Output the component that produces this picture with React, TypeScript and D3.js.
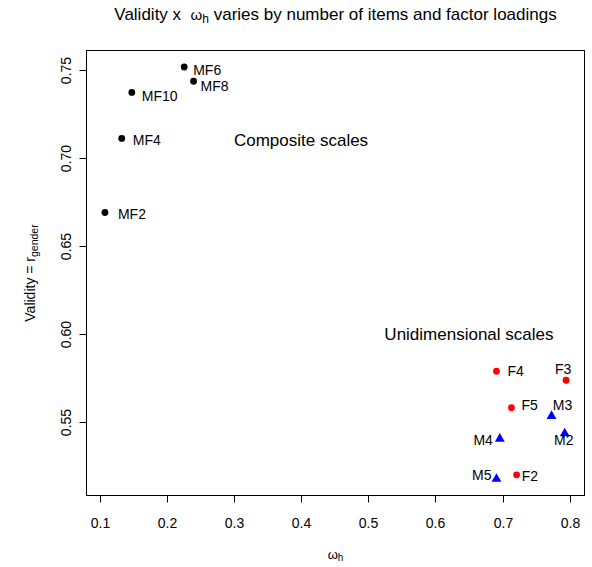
import * as d3 from "d3";

// composite scales (black dots)
const compositeNames = ["MF2", "MF4", "MF6", "MF8", "MF10"];
const compositeOmega = [0.108, 0.133, 0.226, 0.24, 0.148];
const compositeValidity = [0.669, 0.711, 0.7515, 0.7434, 0.7371];

// female items (red dots)
const femaleNames = ["F2", "F3", "F4", "F5"];
const femaleOmega = [0.721, 0.7946, 0.691, 0.7133];
const femaleValidity = [0.5203, 0.5739, 0.579, 0.5583];

// male items (blue triangles)
const maleNames = ["M2", "M3", "M4", "M5"];
const maleOmega = [0.7926, 0.773, 0.696, 0.691];
const maleValidity = [0.5438, 0.5536, 0.5407, 0.5179];

const xTicks = [0.1, 0.2, 0.3, 0.4, 0.5, 0.6, 0.7, 0.8];
const yTicks = [0.55, 0.6, 0.65, 0.7, 0.75];

const notes = [
  { text: "Composite scales", x: 0.4, y: 0.71 },
  { text: "Unidimensional scales", x: 0.65, y: 0.6 },
];

// where each label sits relative to its point (px)
const labelPlace: Record<string, [number, number, string]> = {
  MF2: [13, 2, "start"],
  MF4: [11, 2, "start"],
  MF6: [9, 3, "start"],
  MF8: [7, 5, "start"],
  MF10: [10, 4, "start"],
  F2: [5, 1, "start"],
  F3: [-3, -11, "middle"],
  F4: [11, 0, "start"],
  F5: [10, -3, "start"],
  M2: [-1, 7, "middle"],
  M3: [11, -11, "middle"],
  M4: [-7, 1, "end"],
  M5: [-5, -4, "end"],
};

const font = "'Liberation Sans', Arial, Helvetica, sans-serif";

function pad(ext: [number, number]): [number, number] {
  const d = (ext[1] - ext[0]) * 0.04;
  return [ext[0] - d, ext[1] + d];
}

export default function App() {
  const W = 592;
  const H = 567;
  const left = 86.5;
  const right = 584.5;
  const top = 50.5;
  const bottom = 495.5;

  const allX = [...compositeOmega, ...femaleOmega, ...maleOmega];
  const allY = [...compositeValidity, ...femaleValidity, ...maleValidity];

  const x = d3.scaleLinear().domain(pad(d3.extent(allX) as [number, number])).range([left, right]);
  const y = d3.scaleLinear().domain(pad(d3.extent(allY) as [number, number])).range([bottom, top]);

  const tri = d3.symbol().type(d3.symbolTriangle).size(42)();

  const label = (name: string, px: number, py: number) => {
    const [dx, dy, anchor] = labelPlace[name];
    return (
      <text
        key={"l" + name}
        x={px + dx}
        y={py + dy}
        textAnchor={anchor as any}
        dominantBaseline="central"
        fontSize={14}
      >
        {name}
      </text>
    );
  };

  const cx = (left + right) / 2;
  const cy = (top + bottom) / 2;

  return (
    <svg
      width={W}
      height={H}
      style={{ position: "absolute", left: 0, top: 0, background: "#fff" }}
      fontFamily={font}
    >
      <rect x={0} y={0} width={W} height={H} fill="#fff" />
      {/* title */}
      <text x={cx} y={20} textAnchor="middle" fontSize={17}>
        Validity x {"\u00a0"}<tspan fontSize={15}>ω</tspan>
        <tspan fontSize={12} dy={3}>h</tspan>
        <tspan dy={-3}> varies by number of items and factor loadings</tspan>
      </text>

      {/* box */}
      <rect x={left} y={top} width={right - left} height={bottom - top} fill="none" stroke="#000" />

      {/* x axis */}
      <line x1={x(xTicks[0])} x2={x(xTicks[xTicks.length - 1])} y1={bottom} y2={bottom} stroke="#000" />
      {xTicks.map((t) => (
        <g key={"x" + t} transform={`translate(${Math.round(x(t)) + 0.5},${bottom})`}>
          <line y1={0} y2={7} stroke="#000" />
          <text y={32} textAnchor="middle" fontSize={14}>
            {d3.format(".1f")(t)}
          </text>
        </g>
      ))}
      <text x={cx} y={559} textAnchor="middle" fontSize={13}>
        ω<tspan fontSize={10} dy={2}>h</tspan>
      </text>

      {/* y axis */}
      <line x1={left} x2={left} y1={y(yTicks[0])} y2={y(yTicks[yTicks.length - 1])} stroke="#000" />
      {yTicks.map((t) => (
        <g key={"y" + t} transform={`translate(${left},${Math.round(y(t)) + 0.5})`}>
          <line x1={0} x2={-7} stroke="#000" />
          <text transform="translate(-16,0) rotate(-90)" textAnchor="middle" fontSize={14}>
            {d3.format(".2f")(t)}
          </text>
        </g>
      ))}
      <text transform={`translate(35,${cy}) rotate(-90)`} textAnchor="middle" fontSize={14}>
        Validity = r<tspan fontSize={10.5} dy={3}>gender</tspan>
      </text>

      {/* annotations */}
      {notes.map((n) => (
        <text key={n.text} x={x(n.x)} y={y(n.y)} textAnchor="middle" dominantBaseline="central" fontSize={17}>
          {n.text}
        </text>
      ))}

      {/* composite points */}
      {compositeNames.map((name, i) => (
        <g key={name}>
          <circle cx={x(compositeOmega[i])} cy={y(compositeValidity[i])} r={3.4} fill="#000" />
          {label(name, x(compositeOmega[i]), y(compositeValidity[i]))}
        </g>
      ))}

      {/* female points */}
      {femaleNames.map((name, i) => (
        <g key={name}>
          <circle cx={x(femaleOmega[i])} cy={y(femaleValidity[i])} r={3.4} fill="#ff0000" />
          {label(name, x(femaleOmega[i]), y(femaleValidity[i]))}
        </g>
      ))}

      {/* male points */}
      {maleNames.map((name, i) => (
        <g key={name}>
          <path
            d={tri as string}
            transform={`translate(${x(maleOmega[i])},${y(maleValidity[i])})`}
            fill="#0000ff"
          />
          {label(name, x(maleOmega[i]), y(maleValidity[i]))}
        </g>
      ))}
    </svg>
  );
}
